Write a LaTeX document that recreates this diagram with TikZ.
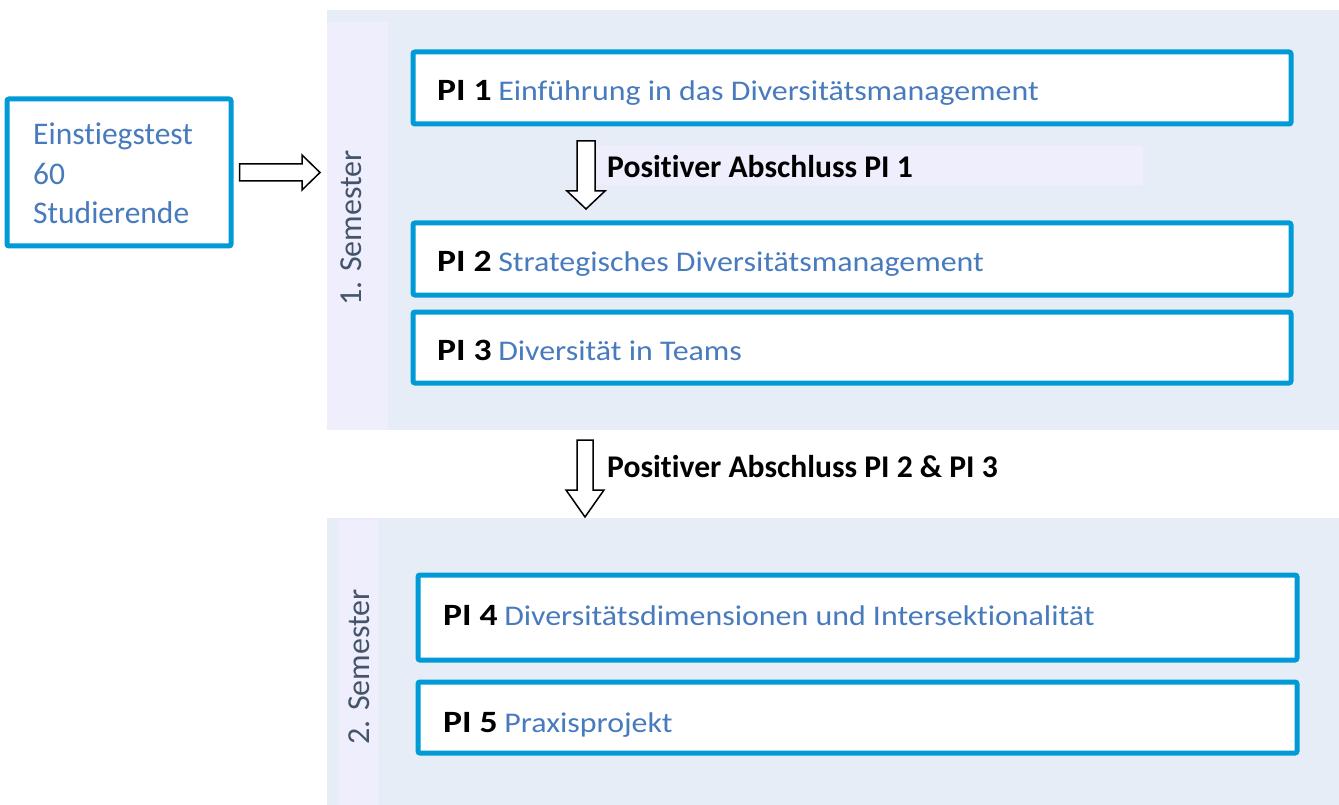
\documentclass[tikz,border=0pt]{standalone}
\usepackage{fontspec}
\setmainfont{Carlito}[Ligatures=NoCommon]
\newfontfamily\pibfont{Carlito}[Ligatures=NoCommon, FakeStretch=1.15]
\newfontfamily\pirfont{Carlito}[Ligatures=NoCommon, FakeStretch=1.12]
\usetikzlibrary{calc}
\definecolor{panelbg}{RGB}{230,237,246}
\definecolor{stripbg}{RGB}{238,238,252}
\definecolor{boxline}{RGB}{0,155,215}
\definecolor{bluetxt}{RGB}{72,122,190}
\definecolor{semtxt}{RGB}{68,84,106}
\tikzset{
  panel/.style={fill=panelbg, draw=none, inner sep=0pt, anchor=north west},
  strip/.style={fill=stripbg, draw=none, inner sep=0pt, anchor=north west},
  pibox/.style={draw=boxline, line width=5pt, fill=white, rounded corners=2pt, inner sep=0pt},
  pitext/.style={anchor=base west, inner sep=0pt, font=\fontsize{28.5}{34}\selectfont},
  semlabel/.style={rotate=90, text=semtxt, inner sep=0pt, font=\fontsize{32}{38}\selectfont},
  hollowarrow/.style={draw=black, line width=1.5pt, fill=white, line join=miter},
  steplabel/.style={anchor=base west, inner sep=0pt, font=\fontsize{31.6}{38}\selectfont\bfseries},
}
\newcommand{\pitem}[2]{{\pibfont\fontsize{31}{36}\selectfont\bfseries\color{black}#1}~{\pirfont\color{bluetxt}#2}}
\begin{document}
\begin{tikzpicture}[x=1pt,y=-1pt]
\useasboundingbox[fill=white] (0,0) rectangle (1339,805);
% panels
\node[panel, minimum width=1012pt, minimum height=420pt] (sem1) at (327,10) {};
\node[strip, minimum width=61pt, minimum height=408pt] (strip1) at (327,22) {};
\node[panel, minimum width=1012pt, minimum height=287pt] (sem2) at (327,518) {};
\node[strip, minimum width=39pt, minimum height=285pt] (strip2) at (339,520) {};
\node[semlabel] (lab1) at (351,228) {1. Semester};
\node[semlabel] (lab2) at (359,667) {2. Semester};
% entry box
\node[pibox, minimum width=224pt, minimum height=147pt] (entry) at (119,172.5) {};
\node[anchor=north west, inner sep=0pt, text=bluetxt, align=left, font=\fontsize{31.5}{39.5}\selectfont] (entrytext) at (33,123) {Einstiegstest\\60\\Studierende};
% PI boxes
\node[pibox, minimum width=878pt, minimum height=72pt] (pi1) at (852,88) {};
\node[pibox, minimum width=878pt, minimum height=72pt] (pi2) at (852,259) {};
\node[pibox, minimum width=878pt, minimum height=71pt] (pi3) at (852,347.5) {};
\node[pibox, minimum width=879pt, minimum height=85pt] (pi4) at (857.5,617.5) {};
\node[pibox, minimum width=879pt, minimum height=71pt] (pi5) at (857.5,717.5) {};
\node[pitext] (t1) at (437,101) {\pitem{PI 1}{Einführung in das Diversitätsmanagement}};
\node[pitext] (t2) at (437,272) {\pitem{PI 2}{Strategisches Diversitätsmanagement}};
\node[pitext] (t3) at (437,360) {\pitem{PI 3}{Diversität in Teams}};
\node[pitext] (t4) at (443,625) {\pitem{PI 4}{Diversitätsdimensionen und Intersektionalität}};
\node[pitext] (t5) at (443,732) {\pitem{PI 5}{Praxisprojekt}};
% step labels
\node[fill=stripbg, anchor=north west, inner sep=0pt, minimum width=546pt, minimum height=39pt] (bg1) at (597,146) {};
\node[steplabel] (s1) at (607,178) {Positiver Abschluss PI 1};
\node[steplabel] (s2) at (607,477) {Positiver Abschluss PI 2 \& PI 3};
% arrows (hollow block arrows between named points)
\coordinate (a0s) at ($(entry.east)+(6,0)$);
\coordinate (a0e) at (320,172.5);
\draw[hollowarrow] ($(a0s)+(0,-8.5)$) -- ($(a0e)+(-18,-8.5)$) -- ($(a0e)+(-18,-17.5)$) -- (a0e)
  -- ($(a0e)+(-18,17.5)$) -- ($(a0e)+(-18,8.5)$) -- ($(a0s)+(0,8.5)$) -- cycle;
\coordinate (a1s) at (586,141);
\coordinate (a1e) at (586,209);
\draw[hollowarrow] ($(a1s)+(-9,0)$) -- ($(a1e)+(-9,-18)$) -- ($(a1e)+(-19,-18)$) -- (a1e)
  -- ($(a1e)+(19,-18)$) -- ($(a1e)+(9,-18)$) -- ($(a1s)+(9,0)$) -- cycle;
\coordinate (a2s) at (585,440);
\coordinate (a2e) at (585,517);
\draw[hollowarrow] ($(a2s)+(-8,0)$) -- ($(a2e)+(-8,-27)$) -- ($(a2e)+(-19,-27)$) -- (a2e)
  -- ($(a2e)+(19,-27)$) -- ($(a2e)+(8,-27)$) -- ($(a2s)+(8,0)$) -- cycle;
\end{tikzpicture}
\end{document}
